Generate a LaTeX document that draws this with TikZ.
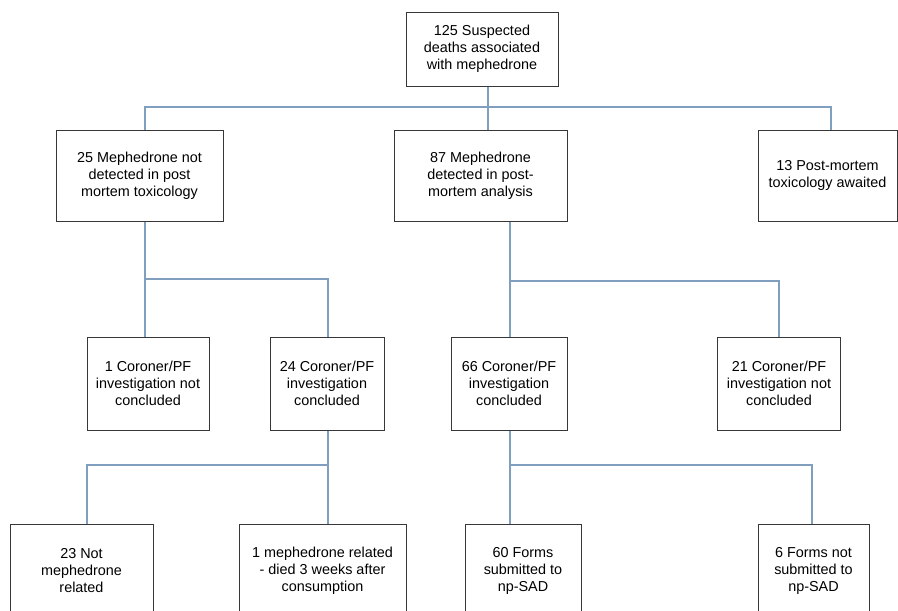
\documentclass[tikz,border=0pt]{standalone}
\usepackage{fontspec}
\setmainfont{Liberation Sans}
\definecolor{linkblue}{RGB}{128,158,190}
\definecolor{boxgray}{RGB}{55,55,55}
\begin{document}
\begin{tikzpicture}[x=1pt, y=-1pt,
    box/.style={rectangle, draw=boxgray, line width=1pt, inner sep=2pt, align=center,
      font=\fontsize{14.4}{17}\selectfont},
    link/.style={draw=linkblue, line width=1.2pt}
  ]
    \useasboundingbox[fill=white] (0,0) rectangle (898,611);
    % level 1
    \node[box, minimum width=152pt, minimum height=74pt] (total) at (482,49) {125 Suspected\\deaths associated\\with mephedrone};
    % level 2
    \node[box, minimum width=167pt, minimum height=91pt] (notdet) at (139.5,175.5) {25 Mephedrone not\\detected in post\\mortem toxicology};
    \node[box, minimum width=173pt, minimum height=91pt] (det) at (480.5,175.5) {87 Mephedrone\\detected in post-\\mortem analysis};
    \node[box, minimum width=139pt, minimum height=91pt] (await) at (827.5,175.5) {13 Post-mortem\\toxicology awaited};
    % level 3
    \node[box, minimum width=122pt, minimum height=93pt] (ncopen) at (148,383.5) {1 Coroner/PF\\investigation not\\concluded};
    \node[box, minimum width=114pt, minimum height=93pt] (ncdone) at (327,383.5) {24 Coroner/PF\\investigation\\concluded};
    \node[box, minimum width=116pt, minimum height=93pt] (ddone) at (509,383.5) {66 Coroner/PF\\investigation\\concluded};
    \node[box, minimum width=123pt, minimum height=93pt] (dopen) at (779,383.5) {21 Coroner/PF\\investigation not\\concluded};
    % level 4
    \node[box, minimum width=143pt, minimum height=93pt] (notrel) at (81.5,570.5) {23 Not\\mephedrone\\related};
    \node[box, minimum width=167pt, minimum height=93pt] (rel) at (322.5,570.5) {1 mephedrone related\\- died 3 weeks after\\consumption};
    \node[box, minimum width=116pt, minimum height=93pt] (sub) at (523,570.5) {60 Forms\\submitted to\\np-SAD};
    \node[box, minimum width=111pt, minimum height=93pt] (nosub) at (813.5,570.5) {6 Forms not\\submitted to\\np-SAD};
    % junctions
    \coordinate (j1) at (488,107);
    \coordinate (j2) at (145,279);
    \coordinate (j3) at (510,281);
    \coordinate (j4) at (328,465);
    \coordinate (j5) at (510,465);
    % connectors
    \draw[link] (total.south -| j1) -- (j1) -- (j1 |- det.north);
    \draw[link] (notdet.north -| j2) |- (j1) -| (await.north -| 831,0);
    \draw[link] (notdet.south -| j2) -- (j2 |- ncopen.north);
    \draw[link] (j2) -| (ncdone.north -| j4);
    \draw[link] (det.south -| j3) -- (j3 |- ddone.north);
    \draw[link] (j3) -| (dopen.north);
    \draw[link] (ncdone.south -| j4) -- (j4 |- rel.north);
    \draw[link] (j4) -| (notrel.north -| 87,0);
    \draw[link] (ddone.south -| j5) -- (j5 |- sub.north);
    \draw[link] (j5) -| (nosub.north -| 812,0);
  \end{tikzpicture}
\end{document}
